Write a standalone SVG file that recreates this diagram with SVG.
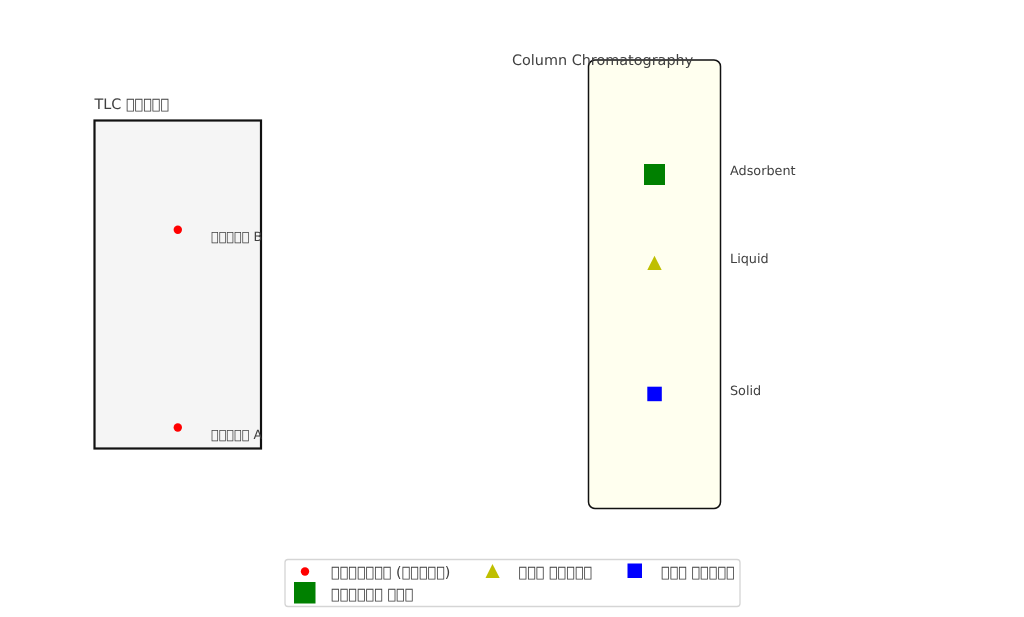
<svg xmlns="http://www.w3.org/2000/svg" width="1024" height="617" viewBox="0 0 1024 617">
<style>
text{font-family:"DejaVu Sans",sans-serif;fill:#404040;text-rendering:geometricPrecision;filter:url(#gray)}
.t{font-size:14.400px}
.l{font-size:12.800px}
.g{font-size:14.400px}
</style>
<defs>
<filter id="gray" x="-5%" y="-20%" width="110%" height="140%" color-interpolation-filters="sRGB"><feOffset dx="0" dy="0"/></filter>
<clipPath id="tlcClip"><rect x="94" y="120" width="167.500" height="328.500"/></clipPath>
</defs>
<rect width="1024" height="617" fill="#fff"/>
<g id="tlc-plate">
<rect x="94.500" y="120.500" width="166.500" height="328" fill="#f5f5f5" stroke="#111" stroke-width="2.200"/>
<text class="t" x="94.500" y="109">TLC &#xE000;&#xE000;&#xE000;&#xE000;&#xE000;</text>
</g>
<g id="spot-b">
<circle cx="177.800" cy="229.800" r="4.200" fill="#f00"/>
<g clip-path="url(#tlcClip)"><text class="l" x="211" y="241">&#xE000;&#xE000;&#xE000;&#xE000;&#xE000; B</text></g>
</g>
<g id="spot-a">
<circle cx="177.800" cy="427.500" r="4.200" fill="#f00"/>
<g clip-path="url(#tlcClip)"><text class="l" x="211" y="439">&#xE000;&#xE000;&#xE000;&#xE000;&#xE000; A</text></g>
</g>
<g id="column">
<rect x="588.500" y="60" width="132" height="448.500" rx="6.500" fill="#ffffef" stroke="#111" stroke-width="1.500"/>
<text class="t" x="512" y="65">Column Chromatography</text>
</g>
<g id="adsorbent">
<rect x="644" y="164" width="21" height="21" fill="#008000"/>
<text class="l" x="730" y="175">Adsorbent</text>
</g>
<g id="liquid">
<polygon points="654.500,255.700 661.700,270 647.300,270" fill="#bfbf00"/>
<text class="l" x="730" y="263">Liquid</text>
</g>
<g id="solid">
<rect x="647.300" y="386.700" width="14.500" height="14.500" fill="#00f"/>
<text class="l" x="730" y="395">Solid</text>
</g>
<g id="connectors"></g>
<g id="legend">
<rect x="285" y="559.500" width="455" height="47" rx="3" fill="#fff" stroke="#d5d5d5" stroke-width="1.300"/>
<circle cx="305" cy="571.500" r="4.200" fill="#f00"/>
<text class="g" x="331" y="577">&#xE000;&#xE000;&#xE000;&#xE000;&#xE000;&#xE000;&#xE000; (&#xE000;&#xE000;&#xE000;&#xE000;&#xE000;)</text>
<polygon points="492.500,564 499.700,578 485.500,578" fill="#bfbf00"/>
<text class="g" x="518.500" y="577">&#xE000;&#xE000;&#xE000; &#xE000;&#xE000;&#xE000;&#xE000;&#xE000;</text>
<rect x="627.500" y="563.500" width="14.500" height="14.500" fill="#00f"/>
<text class="g" x="661" y="577">&#xE000;&#xE000;&#xE000; &#xE000;&#xE000;&#xE000;&#xE000;&#xE000;</text>
<rect x="294" y="582" width="21.500" height="21.500" fill="#008000"/>
<text class="g" x="331" y="598.500">&#xE000;&#xE000;&#xE000;&#xE000;&#xE000;&#xE000; &#xE000;&#xE000;&#xE000;</text>
</g>
</svg>
